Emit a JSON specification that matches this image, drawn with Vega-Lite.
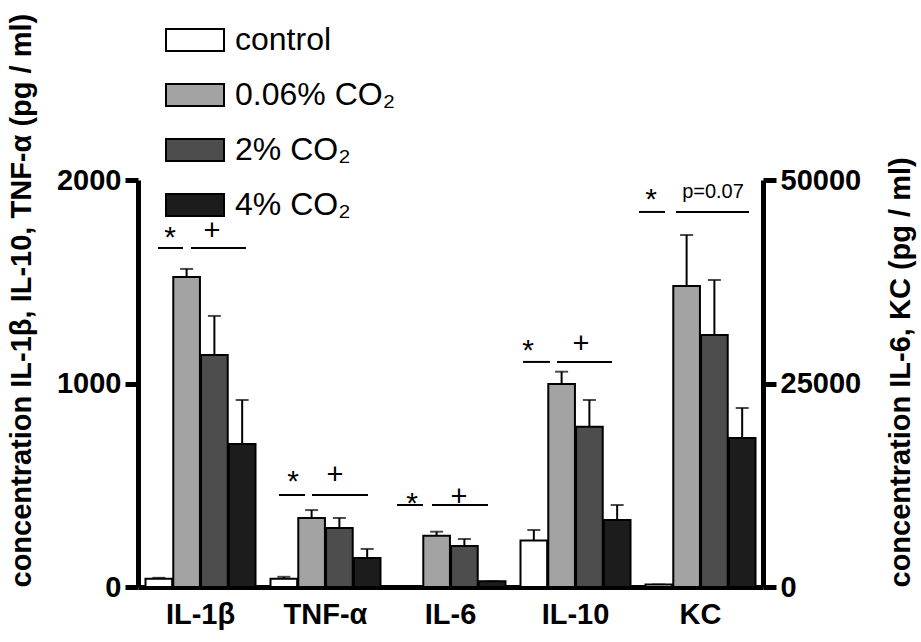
{
  "$schema": "https://vega.github.io/schema/vega-lite/v6.json",
  "width": 625,
  "height": 407,
  "autosize": {"type": "none"},
  "padding": {"left": 138, "top": 180, "right": 158, "bottom": 55},
  "background": "white",
  "config": {
    "view": {"stroke": null},
    "font": "Liberation Sans",
    "axis": {
      "grid": false,
      "domainColor": "black",
      "domainWidth": 5,
      "tickColor": "black",
      "tickWidth": 5,
      "tickSize": 13,
      "labelColor": "black",
      "labelFont": "Liberation Sans",
      "labelFontWeight": "bold",
      "labelFontSize": 29,
      "labelPadding": 4,
      "titleColor": "black",
      "titleFont": "Liberation Sans",
      "titleFontWeight": "bold",
      "titleFontSize": 29
    },
    "axisX": {"ticks": false, "labelAngle": 0, "labelPadding": 13}
  },
  "datasets": {
    "cyto": [
      {"cytokine": "IL-1β", "group": "control", "value": 40, "upper": 45, "side": "L"},
      {"cytokine": "IL-1β", "group": "0.06% CO₂", "value": 1523, "upper": 1563, "side": "L"},
      {"cytokine": "IL-1β", "group": "2% CO₂", "value": 1140, "upper": 1332, "side": "L"},
      {"cytokine": "IL-1β", "group": "4% CO₂", "value": 703, "upper": 919, "side": "L"},
      {"cytokine": "TNF-α", "group": "control", "value": 40, "upper": 50, "side": "L"},
      {"cytokine": "TNF-α", "group": "0.06% CO₂", "value": 339, "upper": 378, "side": "L"},
      {"cytokine": "TNF-α", "group": "2% CO₂", "value": 290, "upper": 339, "side": "L"},
      {"cytokine": "TNF-α", "group": "4% CO₂", "value": 143, "upper": 187, "side": "L"},
      {"cytokine": "IL-6", "group": "control", "value": 0, "upper": 0, "side": "R"},
      {"cytokine": "IL-6", "group": "0.06% CO₂", "value": 6302, "upper": 6794, "side": "R"},
      {"cytokine": "IL-6", "group": "2% CO₂", "value": 5037, "upper": 5897, "side": "R"},
      {"cytokine": "IL-6", "group": "4% CO₂", "value": 700, "upper": 700, "side": "R"},
      {"cytokine": "IL-10", "group": "control", "value": 228, "upper": 280, "side": "L"},
      {"cytokine": "IL-10", "group": "0.06% CO₂", "value": 998, "upper": 1058, "side": "L"},
      {"cytokine": "IL-10", "group": "2% CO₂", "value": 788, "upper": 919, "side": "L"},
      {"cytokine": "IL-10", "group": "4% CO₂", "value": 329, "upper": 403, "side": "L"},
      {"cytokine": "KC", "group": "control", "value": 300, "upper": 300, "side": "R"},
      {"cytokine": "KC", "group": "0.06% CO₂", "value": 36978, "upper": 43243, "side": "R"},
      {"cytokine": "KC", "group": "2% CO₂", "value": 30958, "upper": 37716, "side": "R"},
      {"cytokine": "KC", "group": "4% CO₂", "value": 18305, "upper": 21990, "side": "R"}
    ],
    "annLines": [
      {"x0": 0.16, "x1": 0.36, "y": 1666},
      {"x0": 0.424, "x1": 0.864, "y": 1666},
      {"x0": 1.128, "x1": 1.336, "y": 452},
      {"x0": 1.392, "x1": 1.84, "y": 452},
      {"x0": 2.072, "x1": 2.28, "y": 403},
      {"x0": 2.352, "x1": 2.8, "y": 403},
      {"x0": 3.08, "x1": 3.296, "y": 1106},
      {"x0": 3.352, "x1": 3.792, "y": 1106},
      {"x0": 4.008, "x1": 4.216, "y": 1843},
      {"x0": 4.304, "x1": 4.888, "y": 1843}
    ],
    "annText": [
      {"x": 0.256, "y": 1749, "label": "*"},
      {"x": 0.592, "y": 1749, "label": "+"},
      {"x": 1.24, "y": 550, "label": "*"},
      {"x": 1.576, "y": 550, "label": "+"},
      {"x": 2.192, "y": 442, "label": "*"},
      {"x": 2.568, "y": 442, "label": "+"},
      {"x": 3.12, "y": 1194, "label": "*"},
      {"x": 3.544, "y": 1194, "label": "+"},
      {"x": 4.104, "y": 1936, "label": "*"},
      {"x": 4.6, "y": 1941, "label": "p=0.07"}
    ]
  },
  "layer": [
    {
      "data": {"name": "cyto"},
      "transform": [{"filter": "datum.side == 'L'"}],
      "encoding": {
        "x": {
          "field": "cytokine", "type": "nominal",
          "scale": {"domain": ["IL-1β", "TNF-α", "IL-6", "IL-10", "KC"], "paddingInner": 0.12, "paddingOuter": 0.06},
          "axis": {"title": null}
        },
        "xOffset": {
          "field": "group", "type": "nominal",
          "scale": {"domain": ["control", "0.06% CO₂", "2% CO₂", "4% CO₂"], "paddingInner": 0.04}
        }
      },
      "layer": [
        {
          "mark": {"type": "rule", "color": "black", "strokeWidth": 2},
          "encoding": {
            "y": {"field": "upper", "type": "quantitative", "scale": {"domain": [0, 2000], "nice": false},
              "axis": {"orient": "left", "values": [0, 1000, 2000], "format": "d", "title": "concentration IL-1β, IL-10, TNF-α (pg / ml)", "titleAnchor": "start", "titlePadding": 20}},
            "y2": {"field": "value"}
          }
        },
        {
          "mark": {"type": "tick", "color": "black", "thickness": 2, "size": 13},
          "encoding": {
            "y": {"field": "upper", "type": "quantitative", "scale": {"domain": [0, 2000], "nice": false},
              "axis": {"orient": "left", "values": [0, 1000, 2000], "format": "d", "title": "concentration IL-1β, IL-10, TNF-α (pg / ml)", "titleAnchor": "start", "titlePadding": 20}}
          }
        },
        {
          "mark": {"type": "bar", "stroke": "black", "strokeWidth": 2},
          "encoding": {
            "y": {"field": "value", "type": "quantitative", "scale": {"domain": [0, 2000], "nice": false},
              "axis": {"orient": "left", "values": [0, 1000, 2000], "format": "d", "title": "concentration IL-1β, IL-10, TNF-α (pg / ml)", "titleAnchor": "start", "titlePadding": 20}},
            "color": {
              "field": "group", "type": "nominal",
              "scale": {"domain": ["control", "0.06% CO₂", "2% CO₂", "4% CO₂"], "range": ["#ffffff", "#a3a3a3", "#4d4d4d", "#1c1c1c"]},
              "legend": {
                "orient": "none", "legendX": 27, "legendY": -170, "title": null, "padding": 0,
                "symbolType": "M-1,-0.38H1V0.38H-1Z", "symbolSize": 3364,
                "symbolStrokeColor": "black", "symbolStrokeWidth": 2, "symbolOpacity": 1,
                "labelFont": "Liberation Sans", "labelFontSize": 32, "labelColor": "black",
                "labelOffset": 10, "rowPadding": 9, "labelLimit": 400
              }
            }
          }
        }
      ]
    },
    {
      "data": {"name": "cyto"},
      "transform": [{"filter": "datum.side == 'R'"}],
      "encoding": {
        "x": {
          "field": "cytokine", "type": "nominal",
          "scale": {"domain": ["IL-1β", "TNF-α", "IL-6", "IL-10", "KC"], "paddingInner": 0.12, "paddingOuter": 0.06},
          "axis": null
        },
        "xOffset": {
          "field": "group", "type": "nominal",
          "scale": {"domain": ["control", "0.06% CO₂", "2% CO₂", "4% CO₂"], "paddingInner": 0.04}
        }
      },
      "layer": [
        {
          "mark": {"type": "rule", "color": "black", "strokeWidth": 2},
          "encoding": {
            "y": {"field": "upper", "type": "quantitative", "scale": {"domain": [0, 50000], "nice": false},
              "axis": {"orient": "right", "values": [0, 25000, 50000], "format": "d", "title": "concentration IL-6, KC (pg / ml)", "titleAngle": 270, "titleBaseline": "top", "titleAnchor": "start", "titlePadding": 26}},
            "y2": {"field": "value"}
          }
        },
        {
          "mark": {"type": "tick", "color": "black", "thickness": 2, "size": 13},
          "encoding": {
            "y": {"field": "upper", "type": "quantitative", "scale": {"domain": [0, 50000], "nice": false},
              "axis": {"orient": "right", "values": [0, 25000, 50000], "format": "d", "title": "concentration IL-6, KC (pg / ml)", "titleAngle": 270, "titleBaseline": "top", "titleAnchor": "start", "titlePadding": 26}}
          }
        },
        {
          "mark": {"type": "bar", "stroke": "black", "strokeWidth": 2},
          "encoding": {
            "y": {"field": "value", "type": "quantitative", "scale": {"domain": [0, 50000], "nice": false},
              "axis": {"orient": "right", "values": [0, 25000, 50000], "format": "d", "title": "concentration IL-6, KC (pg / ml)", "titleAngle": 270, "titleBaseline": "top", "titleAnchor": "start", "titlePadding": 26}},
            "color": {"field": "group", "type": "nominal"}
          }
        }
      ]
    },
    {
      "encoding": {
        "x": {"field": "x", "type": "quantitative", "scale": {"domain": [0, 5], "nice": false, "zero": false}, "axis": null},
        "y": {"field": "y", "type": "quantitative", "scale": {"domain": [0, 2000], "nice": false}, "axis": null}
      },
      "layer": [
        {
          "data": {"name": "annLines"},
          "mark": {"type": "rule", "color": "black", "strokeWidth": 2},
          "encoding": {
            "x": {"field": "x0", "type": "quantitative", "scale": {"domain": [0, 5], "nice": false, "zero": false}, "axis": null},
            "x2": {"field": "x1"}
          }
        },
        {
          "data": {"name": "annText"},
          "transform": [{"filter": "datum.label == '*'"}],
          "mark": {"type": "text", "fontSize": 30, "color": "black", "baseline": "middle", "align": "center", "dy": 7},
          "encoding": {"text": {"field": "label"}}
        },
        {
          "data": {"name": "annText"},
          "transform": [{"filter": "datum.label == '+'"}],
          "mark": {"type": "text", "fontSize": 29, "color": "black", "baseline": "middle", "align": "center"},
          "encoding": {"text": {"field": "label"}}
        },
        {
          "data": {"name": "annText"},
          "transform": [{"filter": "datum.label == 'p=0.07'"}],
          "mark": {"type": "text", "fontSize": 20, "color": "black", "baseline": "middle", "align": "center"},
          "encoding": {"text": {"field": "label"}}
        }
      ]
    }
  ],
  "resolve": {
    "scale": {"x": "independent", "y": "independent", "xOffset": "independent"},
    "axis": {"x": "independent", "y": "independent"}
  }
}
